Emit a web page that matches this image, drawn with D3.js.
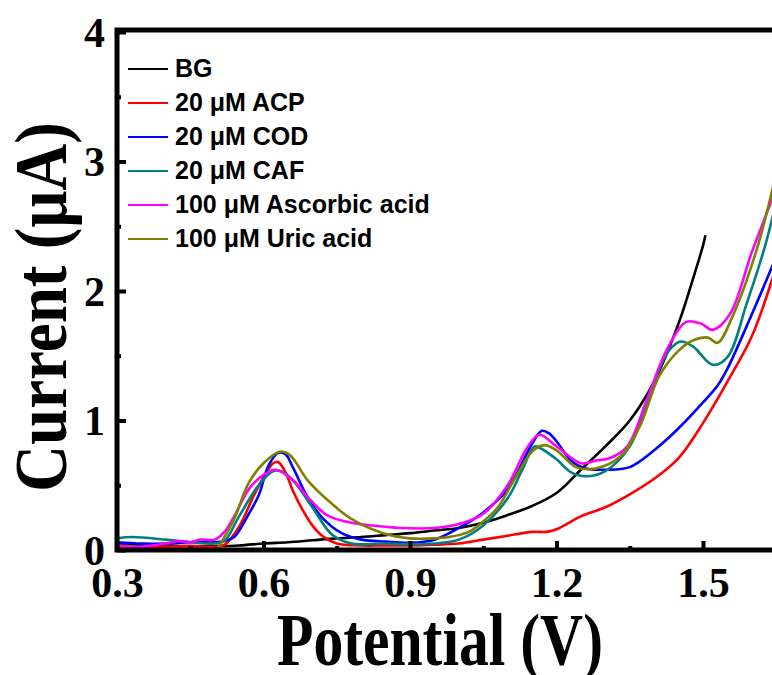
<!DOCTYPE html>
<html>
<head>
<meta charset="utf-8">
<script src="https://cdn.jsdelivr.net/npm/d3@7"></script>
<style>
  body { margin: 0; background: #fff; }
  svg { display: block; }
</style>
</head>
<body>
<script>
const width = 772
const height = 675

// [potential (V), current (uA)]
const bg = [[0.30,0.05],[0.35,0.04],[0.40,0.035],[0.45,0.03],[0.50,0.03],[0.55,0.035],[0.60,0.05],
  [0.65,0.06],[0.70,0.075],[0.75,0.09],[0.80,0.10],[0.85,0.115],[0.90,0.13],[0.95,0.15],[1.00,0.17],
  [1.05,0.21],[1.10,0.27],[1.15,0.34],[1.20,0.44],[1.25,0.62],[1.30,0.80],[1.35,1.0],[1.40,1.30],
  [1.45,1.75],[1.48,2.10],[1.50,2.35],[1.505,2.43]];
const acp = [[0.30,0.03],[0.35,0.02],[0.40,0.025],[0.45,0.03],[0.50,0.025],[0.52,0.04],[0.55,0.18],
  [0.58,0.42],[0.60,0.56],[0.62,0.67],[0.63,0.68],[0.645,0.60],[0.66,0.46],[0.68,0.31],[0.70,0.19],
  [0.72,0.11],[0.75,0.05],[0.80,0.035],[0.85,0.035],[0.90,0.035],[0.95,0.04],[1.00,0.05],[1.05,0.08],
  [1.10,0.11],[1.15,0.14],[1.18,0.14],[1.20,0.16],[1.25,0.26],[1.30,0.33],[1.35,0.43],[1.40,0.55],
  [1.45,0.71],[1.50,0.98],[1.55,1.30],[1.60,1.65],[1.645,2.13]];
const cod = [[0.30,0.06],[0.35,0.05],[0.40,0.05],[0.45,0.06],[0.50,0.06],[0.52,0.07],[0.54,0.10],
  [0.57,0.28],[0.59,0.42],[0.61,0.65],[0.63,0.75],[0.645,0.74],[0.66,0.64],[0.69,0.41],[0.72,0.25],
  [0.76,0.13],[0.80,0.08],[0.85,0.065],[0.90,0.056],[0.95,0.08],[1.00,0.17],[1.05,0.29],[1.10,0.47],
  [1.15,0.82],[1.17,0.92],[1.185,0.90],[1.20,0.84],[1.23,0.69],[1.26,0.63],[1.30,0.62],[1.35,0.64],
  [1.40,0.77],[1.45,0.94],[1.50,1.14],[1.53,1.27],[1.55,1.40],[1.60,1.82],[1.645,2.22]];
const caf = [[0.30,0.09],[0.33,0.10],[0.40,0.08],[0.45,0.06],[0.50,0.05],[0.52,0.07],[0.55,0.26],
  [0.59,0.50],[0.62,0.61],[0.635,0.61],[0.66,0.54],[0.70,0.33],[0.74,0.12],[0.78,0.05],[0.85,0.05],
  [0.90,0.045],[0.95,0.05],[1.00,0.08],[1.05,0.19],[1.10,0.40],[1.13,0.62],[1.155,0.80],[1.17,0.78],
  [1.20,0.70],[1.23,0.60],[1.26,0.57],[1.30,0.61],[1.35,0.80],[1.40,1.30],[1.43,1.54],[1.455,1.61],
  [1.48,1.57],[1.52,1.43],[1.55,1.49],[1.59,1.91],[1.625,2.32],[1.645,2.61]];
const ascorbic = [[0.30,0.04],[0.33,0.02],[0.36,0.03],[0.40,0.05],[0.43,0.07],[0.45,0.06],[0.47,0.08],
  [0.50,0.08],[0.52,0.14],[0.54,0.26],[0.57,0.47],[0.60,0.58],[0.625,0.62],[0.66,0.54],[0.695,0.39],
  [0.73,0.27],[0.78,0.21],[0.85,0.18],[0.88,0.17],[0.95,0.17],[1.00,0.20],[1.05,0.28],[1.10,0.50],
  [1.14,0.79],[1.165,0.89],[1.20,0.80],[1.25,0.67],[1.28,0.69],[1.31,0.71],[1.345,0.80],[1.385,1.16],
  [1.425,1.54],[1.465,1.76],[1.495,1.75],[1.52,1.70],[1.555,1.82],[1.60,2.30],[1.645,2.74]];
const uric = [[0.505,0.0],[0.52,0.10],[0.54,0.24],[0.57,0.52],[0.60,0.67],[0.635,0.76],[0.655,0.73],
  [0.69,0.54],[0.73,0.39],[0.78,0.24],[0.845,0.13],[0.90,0.09],[0.95,0.09],[0.98,0.10],[1.02,0.14],
  [1.05,0.22],[1.08,0.33],[1.11,0.52],[1.15,0.76],[1.175,0.81],[1.20,0.77],[1.24,0.64],[1.28,0.63],
  [1.33,0.72],[1.37,0.95],[1.41,1.34],[1.45,1.54],[1.48,1.62],[1.51,1.64],[1.53,1.60],[1.56,1.80],
  [1.61,2.32],[1.645,2.83]];

const seriesNames = ["BG", "20 \u03bcM ACP", "20 \u03bcM COD", "20 \u03bcM CAF",
  "100 \u03bcM Ascorbic acid", "100 \u03bcM Uric acid"];
const seriesColors = ["#000000", "#ff0000", "#0000ff", "#008080", "#ff00ff", "#808000"];
const seriesData = [bg, acp, cod, caf, ascorbic, uric];

const xTicks = [0.3, 0.6, 0.9, 1.2, 1.5];
const xMinor = [0.45, 0.75, 1.05, 1.35];
const yTicks = [0, 1, 2, 3, 4];
const yMinor = [0.5, 1.5, 2.5, 3.5];

const svg = d3.select("body").append("svg")
    .attr("width", width)
    .attr("height", height);

const x = d3.scaleLinear().domain([0.3, 1.5]).range([117, 703]);
const y = d3.scaleLinear().domain([0, 4]).range([550, 32]);

const serif = "'Liberation Serif', 'Times New Roman', serif";
const sans = "'Liberation Sans', Arial, sans-serif";

// curves
const line = d3.line()
    .x(d => x(d[0]))
    .y(d => y(d[1]))
    .curve(d3.curveCatmullRom);

svg.append("clipPath").attr("id", "plot")
  .append("rect").attr("x", 117).attr("y", 30).attr("width", width - 117).attr("height", 522);

svg.append("g").attr("clip-path", "url(#plot)")
  .selectAll("path")
  .data(seriesData)
  .enter()
  .append("path")
    .attr("d", line)
    .attr("fill", "none")
    .attr("stroke", (d, i) => seriesColors[i])
    .attr("stroke-width", 2.6)
    .attr("stroke-linejoin", "round");

// axes
function styleAxis(g) {
  g.select(".domain").remove();
  g.selectAll(".tick line").attr("stroke", "#000").attr("stroke-width", 4);
  g.selectAll("text")
    .attr("font-family", serif)
    .attr("font-weight", "bold")
    .attr("font-size", 42)
    .attr("fill", "#000");
}

const xAxis = svg.append("g")
    .attr("transform", `translate(0,${y(0)})`)
    .call(d3.axisBottom(x).tickValues(xTicks).tickSize(-9).tickFormat(d3.format(".1f")))
    .call(styleAxis);
xAxis.selectAll("text").attr("dy", null).attr("y", 47);

svg.append("g")
    .attr("transform", `translate(0,${y(0)})`)
    .call(d3.axisBottom(x).tickValues(xMinor).tickSize(-4).tickFormat(""))
    .call(styleAxis);

const yAxis = svg.append("g")
    .attr("transform", `translate(${x(0.3)},0)`)
    .call(d3.axisLeft(y).tickValues(yTicks).tickSize(-9).tickPadding(12).tickFormat(d3.format("d")))
    .call(styleAxis);
yAxis.selectAll("text").attr("dy", "0.34em");

svg.append("g")
    .attr("transform", `translate(${x(0.3)},0)`)
    .call(d3.axisLeft(y).tickValues(yMinor).tickSize(-4).tickFormat(""))
    .call(styleAxis);

// frame
svg.append("path")
    .attr("d", `M${width},${y(4) - 2}H${x(0.3)}V${y(0)}H${width}`)
    .attr("fill", "none")
    .attr("stroke", "#000")
    .attr("stroke-width", 5)
    .attr("stroke-linejoin", "miter");

// axis titles
svg.append("text")
    .attr("x", 277)
    .attr("y", 0)
    .attr("transform", "translate(0,665) scale(1,1.25)")
    .attr("font-family", serif)
    .attr("font-weight", "bold")
    .attr("font-size", 60)
    .attr("textLength", 326)
    .attr("lengthAdjust", "spacingAndGlyphs")
    .text("Potential (V)");

svg.append("text")
    .attr("transform", "translate(66,492) rotate(-90)")
    .attr("font-family", serif)
    .attr("font-weight", "bold")
    .attr("font-size", 74)
    .attr("textLength", 370)
    .attr("lengthAdjust", "spacingAndGlyphs")
    .text("Current (\u03bcA)");

// legend
const legend = svg.append("g")
  .selectAll("g")
  .data(seriesNames)
  .enter()
  .append("g")
    .attr("transform", (d, i) => `translate(128,${69 + i * 34})`);

legend.append("line")
    .attr("x1", 0).attr("x2", 40)
    .attr("stroke", (d, i) => seriesColors[i])
    .attr("stroke-width", 2);

legend.append("text")
    .attr("x", 47)
    .attr("y", 8)
    .attr("font-family", sans)
    .attr("font-weight", "bold")
    .attr("font-size", 25)
    .text(d => d);
</script>
</body>
</html>
